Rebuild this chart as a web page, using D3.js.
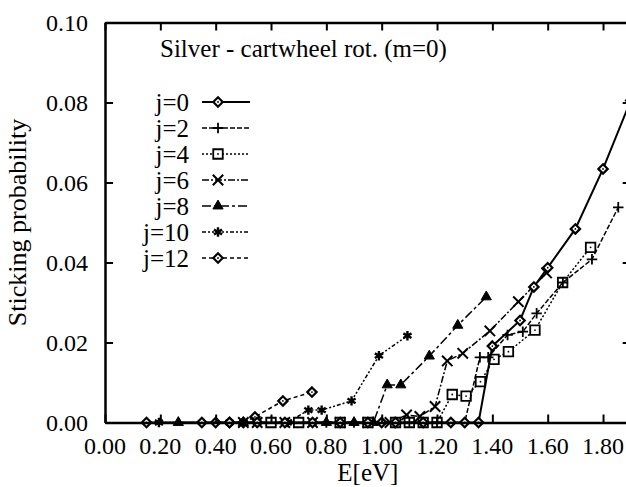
<!DOCTYPE html>
<html>
<head>
<meta charset="utf-8">
<script src="https://cdn.jsdelivr.net/npm/d3@7"></script>
</head>
<body style="margin:0">
<div id="chart"></div>
<script>
// data: [E (eV), sticking probability]
var j0 = [[0.15,0],[0.35,0],[0.45,0],[0.55,0],[0.65,0],[0.75,0],[0.85,0],[0.95,0],[1.00,0],[1.05,0],[1.15,0],[1.25,0],[1.30,0],[1.35,0],
          [1.40,0.0191],[1.50,0.0255],[1.55,0.0339],[1.60,0.0387],[1.70,0.0484],[1.80,0.0634],[1.90,0.0805]];
var j2 = [[0.45,0],[0.55,0],[0.65,0],[0.80,0],[0.90,0],[1.00,0],[1.10,0],[1.20,0],[1.30,0],
          [1.355,0.0163],[1.385,0.0163],[1.455,0.0219],[1.51,0.0227],[1.56,0.0273],[1.655,0.0350],[1.76,0.0408],[1.855,0.0538]];
var j4 = [[0.60,0],[0.70,0],[0.85,0],[0.95,0],[1.05,0],[1.10,0],[1.15,0],[1.20,0],
          [1.255,0.0070],[1.305,0.0066],[1.357,0.0102],[1.406,0.0158],[1.458,0.0177],[1.554,0.0231],[1.654,0.0350],[1.755,0.0438]];
var j6 = [[0.50,0],[0.55,0],[0.65,0],[0.75,0],[0.85,0],[0.95,0],[1.03,0],
          [1.09,0.0019],[1.138,0.0015],[1.193,0.0040],[1.237,0.0154],[1.293,0.0173],[1.391,0.0229],[1.494,0.0302],[1.596,0.0374]];
var j8 = [[0.265,0],[0.50,0],[0.60,0],[0.70,0],[0.80,0],[0.90,0],[0.97,0],
          [1.02,0.0094],[1.069,0.0094],[1.172,0.0166],[1.275,0.0243],[1.378,0.0314]];
var j10 = [[0.195,0],[0.45,0],[0.50,0],[0.55,0],[0.60,0],[0.66,0],
           [0.735,0.0031],[0.783,0.0031],[0.891,0.0054],[0.990,0.0167],[1.093,0.0217]];
var j12 = [[0.40,0],[0.45,0],[0.50,0],
           [0.542,0.0014],[0.643,0.0054],[0.748,0.0076]];

var labels = ["j=0","j=2","j=4","j=6","j=8","j=10","j=12"];
var xTicks = [0,0.2,0.4,0.6,0.8,1.0,1.2,1.4,1.6,1.8];
var yTicks = [0,0.02,0.04,0.06,0.08,0.10];

var width = 626, height = 487;
var serif = "'Liberation Serif'";

var svg = d3.select("#chart")
  .append("svg")
    .attr("width", width)
    .attr("height", height);

var x = d3.scaleLinear().domain([0, 1.9]).range([105, 630.7]);
var y = d3.scaleLinear().domain([0, 0.1]).range([422.5, 22.5]);

function label(sel, size) {
  return sel.style("font-family", serif).style("font-size", size + "px");
}

// texts first
label(svg.append("text"), 25)
  .attr("x", x(0.95)).attr("y", 481)
  .attr("text-anchor", "middle")
  .text("E[eV]");

label(svg.append("text"), 26)
  .attr("transform", "translate(26," + y(0.05) + ") rotate(-90)")
  .attr("text-anchor", "middle")
  .text("Sticking probability");

label(svg.append("text"), 25)
  .attr("x", 160).attr("y", 57)
  .text("Silver - cartwheel rot. (m=0)");

labels.forEach(function(lab, i) {
  label(svg.append("text"), 25)
    .attr("x", 189).attr("y", 102 + 26 * i + 9)
    .attr("text-anchor", "end")
    .text(lab);
});

xTicks.forEach(function(t) {
  label(svg.append("text"), 24)
    .attr("x", x(t)).attr("y", y(0) + 31)
    .attr("text-anchor", "middle")
    .text(d3.format(".2f")(t));
});
yTicks.forEach(function(t) {
  label(svg.append("text"), 24)
    .attr("x", x(0) - 17).attr("y", y(t) + 8)
    .attr("text-anchor", "end")
    .text(d3.format(".2f")(t));
});

// line style per series
var series = [
  {data: j0,  dash: null,           sym: "diamond",  w: 2},
  {data: j2,  dash: "5,2",          sym: "plus",     w: 1.5},
  {data: j4,  dash: "2,2",          sym: "square",   w: 1.5},
  {data: j6,  dash: "7,2,2,2",      sym: "times",    w: 1.5},
  {data: j8,  dash: "9,3,3,3",      sym: "triangle", w: 1.5},
  {data: j10, dash: "4,2,2,2,2,2",  sym: "asterisk", w: 1.5},
  {data: j12, dash: "4,3",          sym: "diamond",  w: 1.5}
];

function marker(g, type) {
  if (type === "diamond") {
    g.append("path").attr("d", d3.symbol(d3.symbolDiamond2, 56)())
      .attr("fill", "#fff").attr("stroke", "#000").attr("stroke-width", 2.2);
    g.append("circle").attr("r", 0.9).attr("fill", "#000");
  } else if (type === "square") {
    g.append("path").attr("d", d3.symbol(d3.symbolSquare2, 115)())
      .attr("fill", "#fff").attr("stroke", "#000").attr("stroke-width", 1.8);
    g.append("circle").attr("r", 0.9).attr("fill", "#000");
  } else if (type === "plus") {
    g.append("path").attr("d", d3.symbol(d3.symbolPlus, 38)())
      .attr("fill", "none").attr("stroke", "#000").attr("stroke-width", 1.8);
  } else if (type === "times") {
    g.append("path").attr("d", d3.symbol(d3.symbolTimes, 72)())
      .attr("fill", "none").attr("stroke", "#000").attr("stroke-width", 2);
  } else if (type === "triangle") {
    g.append("path").attr("d", d3.symbol(d3.symbolTriangle, 45)())
      .attr("fill", "#000").attr("stroke", "#000").attr("stroke-width", 1);
  } else if (type === "asterisk") {
    g.append("path").attr("d", d3.symbol(d3.symbolAsterisk, 62)())
      .attr("fill", "none").attr("stroke", "#000").attr("stroke-width", 2.4);
  }
}

var line = d3.line().x(d => x(d[0])).y(d => y(d[1]));

// draw series, back to front
series.slice().reverse().forEach(function(s) {
  svg.append("path")
    .datum(s.data)
    .attr("d", line)
    .attr("fill", "none")
    .attr("stroke", "#000")
    .attr("stroke-width", s.w)
    .attr("stroke-dasharray", s.dash);
  s.data.forEach(function(d) {
    var g = svg.append("g").attr("transform", "translate(" + x(d[0]) + "," + y(d[1]) + ")");
    marker(g, s.sym);
  });
});

// legend samples
series.forEach(function(s, i) {
  var ly = 102 + 26 * i;
  svg.append("line")
    .attr("x1", 202).attr("x2", 250).attr("y1", ly).attr("y2", ly)
    .attr("stroke", "#000")
    .attr("stroke-width", s.w)
    .attr("stroke-dasharray", s.dash);
  marker(svg.append("g").attr("transform", "translate(218," + ly + ")"), s.sym);
});

// axes, ticks pointing inward (labels drawn above as plain text)
var gx = svg.append("g").attr("transform", "translate(0," + y(0) + ")")
  .call(d3.axisBottom(x).tickValues(xTicks).tickFormat("").tickSizeInner(-8).tickSizeOuter(0));
var gxt = svg.append("g").attr("transform", "translate(0," + y(0.1) + ")")
  .call(d3.axisTop(x).tickValues(xTicks).tickFormat("").tickSizeInner(-8).tickSizeOuter(0));
var gy = svg.append("g").attr("transform", "translate(" + x(0) + ",0)")
  .call(d3.axisLeft(y).tickValues(yTicks).tickFormat("").tickSizeInner(-8).tickSizeOuter(0));
var gyr = svg.append("g").attr("transform", "translate(" + x(1.9) + ",0)")
  .call(d3.axisRight(y).tickValues(yTicks).tickFormat("").tickSizeInner(-8).tickSizeOuter(0));

[gx, gxt, gy, gyr].forEach(function(g) {
  g.select(".domain").attr("stroke-width", 2.5);
  g.selectAll(".tick line").attr("stroke-width", 2);
  g.selectAll(".tick text").remove();
});
</script>
</body>
</html>
